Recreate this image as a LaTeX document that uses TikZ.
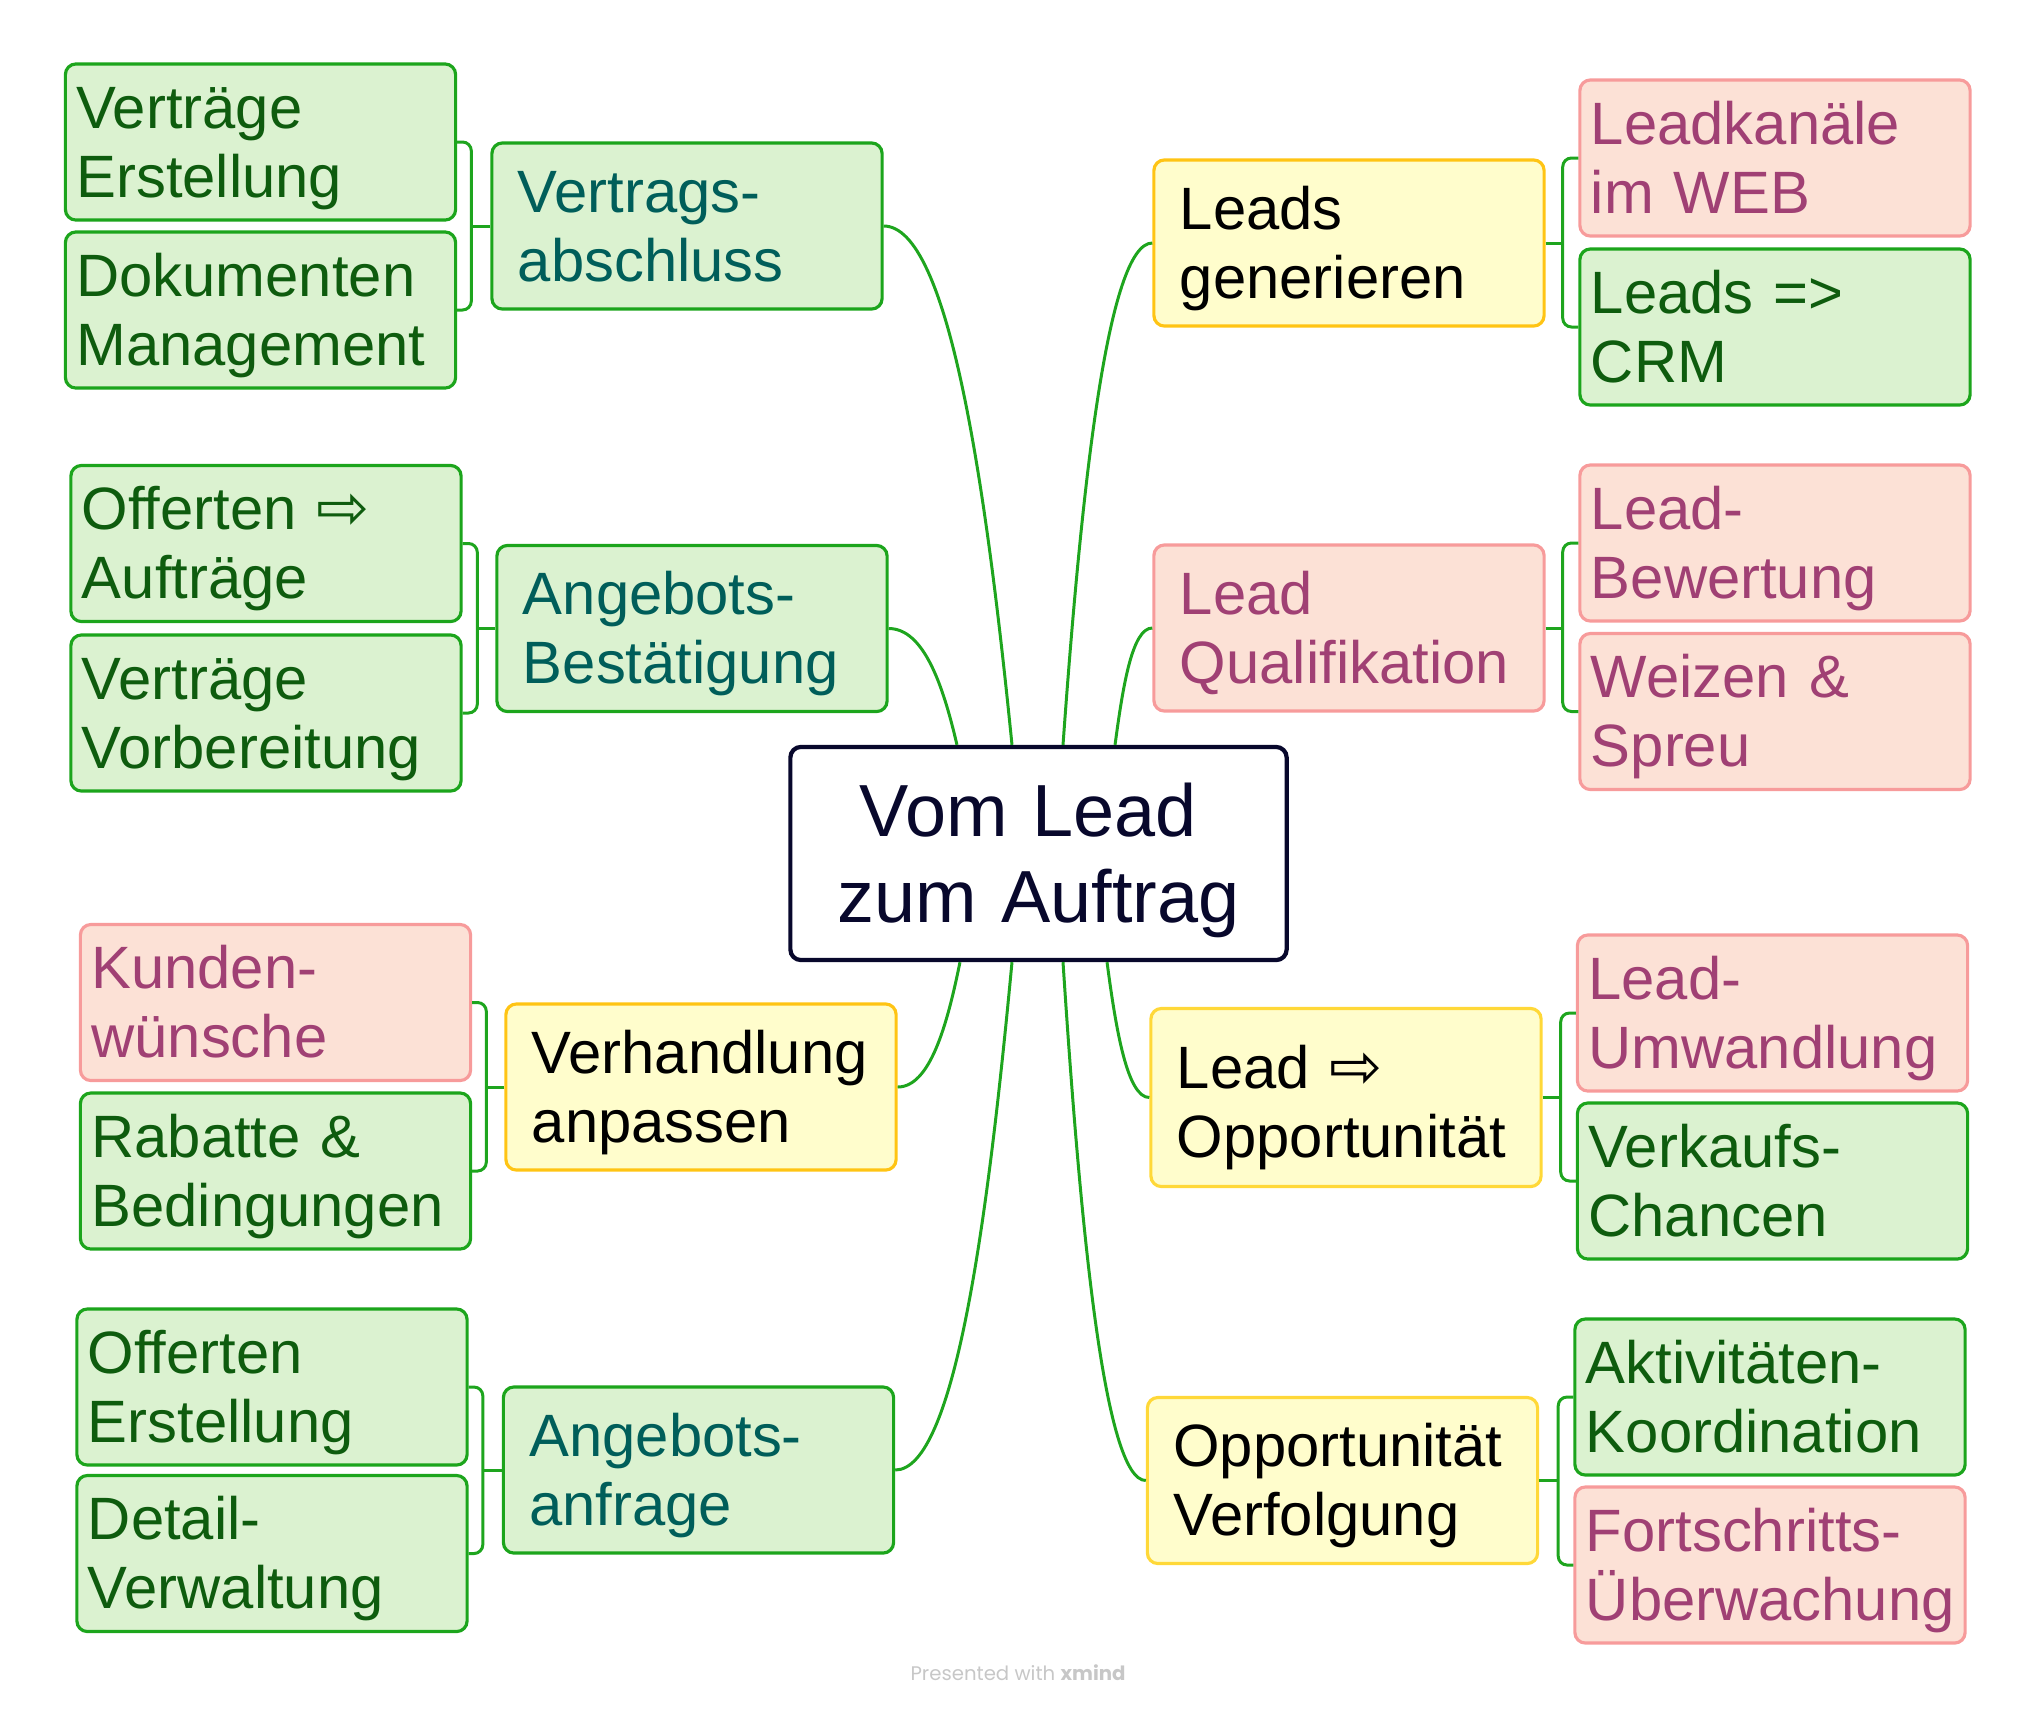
\documentclass[tikz,border=0pt]{standalone}
\usepackage{fontspec}
\setmainfont{Liberation Sans}
\newfontfamily\arrowfont{DejaVu Sans}
\newfontfamily\xmindfont{Poppins}
\definecolor{colLink}{RGB}{30,165,30}
\definecolor{colGreenFill}{RGB}{219,242,208}
\definecolor{colGreenLine}{RGB}{28,165,28}
\definecolor{colGreenText}{RGB}{14,92,14}
\definecolor{colTealText}{RGB}{0,94,90}
\definecolor{colPinkFill}{RGB}{252,225,214}
\definecolor{colPinkLine}{RGB}{247,155,155}
\definecolor{colPinkText}{RGB}{160,64,116}
\definecolor{colYellowFill}{RGB}{255,253,204}
\definecolor{colGold}{RGB}{255,196,20}
\definecolor{colYellowLine}{RGB}{255,216,56}
\definecolor{colNavy}{RGB}{8,8,44}
\newcommand{\rarr}{{\arrowfont\fontsize{18}{18}\selectfont ⇨}}

\begin{document}
\begin{tikzpicture}[
    x=0.01cm, y=-0.01cm,
    box/.style={rounded corners=3pt, line width=0.9pt, align=left,
      font=\fontsize{17}{19.6}\selectfont,
      execute at begin node={\rule{0pt}{0.95em}},
      execute at end node={\rule[-0.25em]{0pt}{0.25em}}},
    leaf/.style={box, text width=3.68cm, inner xsep=0.11cm, inner ysep=0pt, minimum height=1.56cm},
    branch/.style={box, text width=3.38cm, inner xsep=0.26cm, inner ysep=0pt, minimum height=1.66cm},
    greenbox/.style={draw=colGreenLine, fill=colGreenFill, text=colGreenText},
    tealbox/.style={greenbox, text=colTealText},
    pinkbox/.style={draw=colPinkLine, fill=colPinkFill, text=colPinkText},
    goldbox/.style={draw=colGold, fill=colYellowFill, text=black},
    yellowbox/.style={draw=colYellowLine, fill=colYellowFill, text=black},
    link/.style={draw=colLink, line width=0.85pt},
  ]

  \useasboundingbox (0,0) rectangle (2036,1708);

  % ---- central topic ----------------------------------------------------
  \node[box, align=center, draw=colNavy, fill=white, text=colNavy, line width=1.2pt,
        font=\fontsize{21}{24.5}\selectfont, text width=4.5cm, inner xsep=0.23cm,
        inner ysep=0pt, minimum height=2.13cm] (Hub) at (1038.5,853.5)
        {Vom Lead\kern0.28em\\ zum Auftrag};

  % ---- main branches ----------------------------------------------------
  \node[branch, tealbox]  (VA) at (687,226)     {Vertrags-\\ abschluss};
  \node[branch, tealbox]  (AB) at (692,628.5)   {Angebots-\\ Bestätigung};
  \node[branch, goldbox]  (VH) at (701,1087)    {Verhandlung\\ anpassen};
  \node[branch, tealbox]  (AA) at (698.5,1470)  {Angebots-\\ anfrage};
  \node[branch, goldbox]  (LG) at (1349,243)    {Leads\\ generieren};
  \node[branch, pinkbox]  (LQ) at (1349,628)    {Lead\\ Qualifikation};
  \node[branch, yellowbox, minimum height=1.78cm] (LO) at (1346,1097.5)
       {Lead \rarr\rule{0pt}{1.1em}\\ Opportunität};
  \node[branch, yellowbox] (OV) at (1342.5,1480.5) {Opportunität\\ Verfolgung};

  % ---- sub topics, left -------------------------------------------------
  \node[leaf, greenbox] (VE) at (260.5,142)   {Verträge\\ Erstellung};
  \node[leaf, greenbox] (DM) at (260.5,310)   {Dokumenten\\ Management};
  \node[leaf, greenbox] (OA) at (266,543.5)   {Offerten \rarr\\ Aufträge};
  \node[leaf, greenbox] (VV) at (266,713)     {Verträge\\ Vorbereitung};
  \node[leaf, pinkbox]  (KW) at (275.5,1002.5) {Kunden-\\ wünsche};
  \node[leaf, greenbox] (RB) at (275.5,1171)  {Rabatte \&\\ Bedingungen};
  \node[leaf, greenbox] (OE) at (272,1387)    {Offerten\\ Erstellung};
  \node[leaf, greenbox] (DV) at (272,1553.5)  {Detail-\\ Verwaltung};

  % ---- sub topics, right ------------------------------------------------
  \node[leaf, pinkbox]  (LK) at (1775,158)    {Leadkanäle\\ im WEB};
  \node[leaf, greenbox] (LC) at (1775,327)    {Leads =>\\ CRM};
  \node[leaf, pinkbox]  (LB) at (1775,543)    {Lead-\\ Bewertung};
  \node[leaf, pinkbox]  (WS) at (1775,711.5)  {Weizen \&\\ Spreu};
  \node[leaf, pinkbox]  (LU) at (1772.5,1013) {Lead-\\ Umwandlung};
  \node[leaf, greenbox] (VC) at (1772.5,1181) {Verkaufs-\\ Chancen};
  \node[leaf, greenbox] (AK) at (1770,1397)   {Aktivitäten-\\ Koordination};
  \node[leaf, pinkbox]  (FU) at (1770,1565)   {Fortschritts-\\ Überwachung};

  % ---- curves from the centre -------------------------------------------
  \draw[link] ([xshift=-0.265cm]Hub.north) .. controls +(-26,-260) and +(65,0) .. (VA.east);
  \draw[link] ([xshift=-0.815cm]Hub.north) .. controls +(-14,-60) and +(35,0) .. (AB.east);
  \draw[link] ([xshift=0.245cm]Hub.north) .. controls +(18,-252) and +(-45,0) .. (LG.west);
  \draw[link] ([xshift=0.765cm]Hub.north) .. controls +(8,-60) and +(-20,0) .. (LQ.west);
  \draw[link] ([xshift=-0.785cm]Hub.south) .. controls +(-13,64) and +(32,0) .. (VH.east);
  \draw[link] ([xshift=-0.265cm]Hub.south) .. controls +(-24,255) and +(60,0) .. (AA.east);
  \draw[link] ([xshift=0.685cm]Hub.south) .. controls +(9,68) and +(-22,0) .. (LO.west);
  \draw[link] ([xshift=0.245cm]Hub.south) .. controls +(17,260) and +(-42,0) .. (OV.west);

  % ---- brackets to the sub topics ---------------------------------------
  \draw[link, rounded corners=2.5pt] (VE.east) -| ([xshift=-0.19cm]VA.west) |- (DM.east);
  \draw[link] (VA.west) -- ++(-19,0);
  \draw[link, rounded corners=2.5pt] (OA.east) -| ([xshift=-0.18cm]AB.west) |- (VV.east);
  \draw[link] (AB.west) -- ++(-18,0);
  \draw[link, rounded corners=2.5pt] (KW.east) -| ([xshift=-0.18cm]VH.west) |- (RB.east);
  \draw[link] (VH.west) -- ++(-18,0);
  \draw[link, rounded corners=2.5pt] (OE.east) -| ([xshift=-0.19cm]AA.west) |- (DV.east);
  \draw[link] (AA.west) -- ++(-19,0);

  \draw[link, rounded corners=2.5pt] (LK.west) -| ([xshift=0.17cm]LG.east) |- (LC.west);
  \draw[link] (LG.east) -- ++(17,0);
  \draw[link, rounded corners=2.5pt] (LB.west) -| ([xshift=0.17cm]LQ.east) |- (WS.west);
  \draw[link] (LQ.east) -- ++(17,0);
  \draw[link, rounded corners=2.5pt] (LU.west) -| ([xshift=0.18cm]LO.east) |- (VC.west);
  \draw[link] (LO.east) -- ++(18,0);
  \draw[link, rounded corners=2.5pt] (AK.west) -| ([xshift=0.19cm]OV.east) |- (FU.west);
  \draw[link] (OV.east) -- ++(19,0);

  % ---- footer -----------------------------------------------------------
  \node[font=\xmindfont\fontsize{5.6}{6}\selectfont, text=black!22] (Footer) at (1018,1673)
       {Presented with \textbf{xmind}};

\end{tikzpicture}
\end{document}
